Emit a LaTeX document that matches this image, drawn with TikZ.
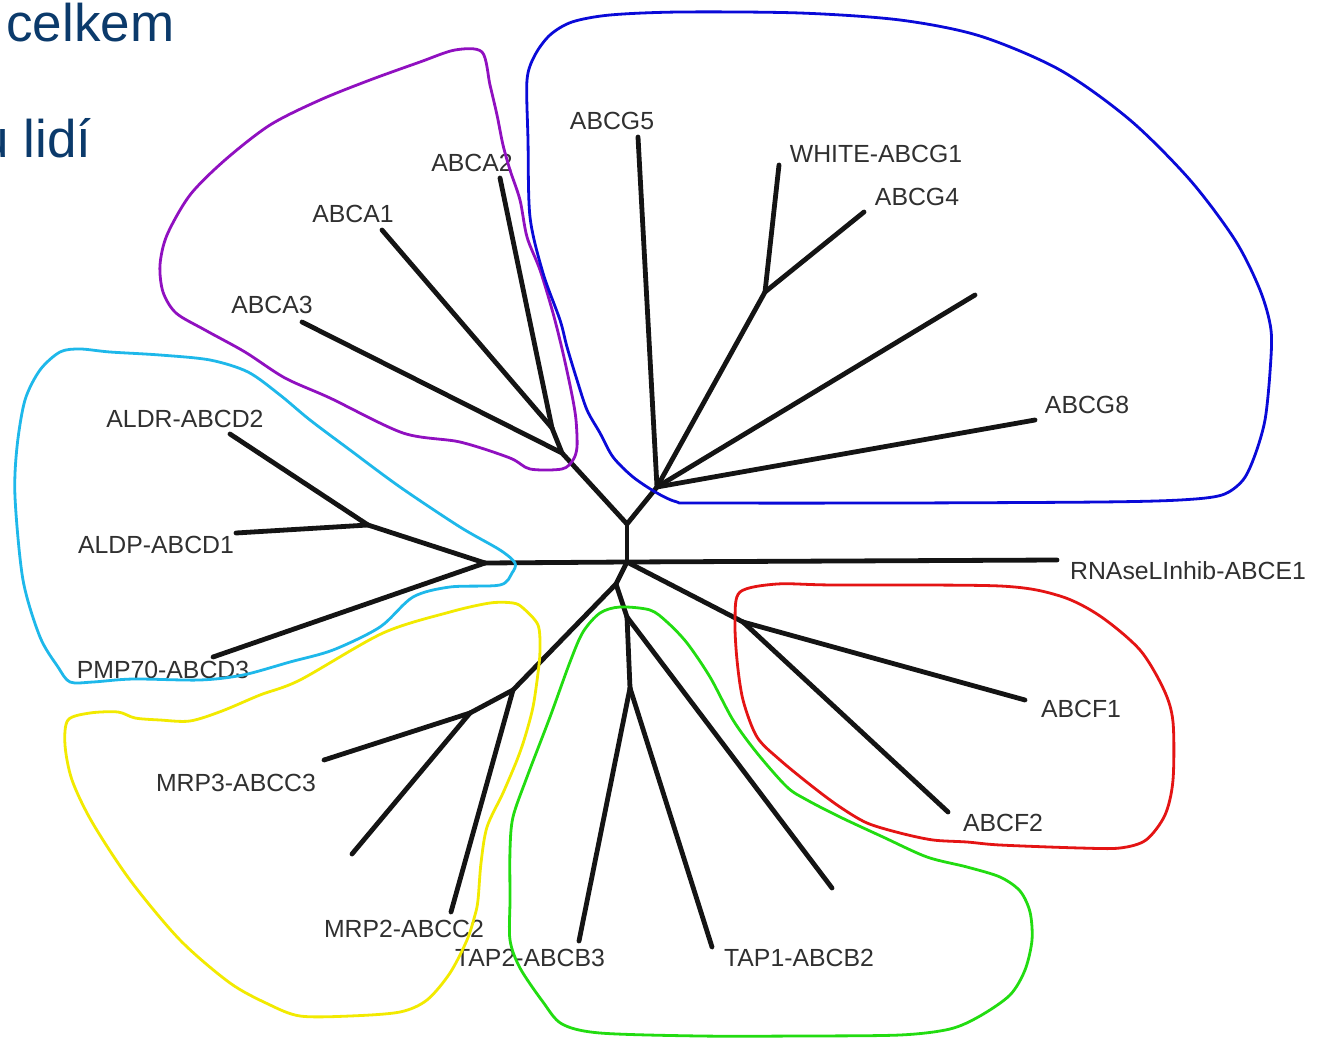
\documentclass[tikz,border=0pt]{standalone}
\usepackage{fontspec}
\setmainfont{Liberation Sans}
\definecolor{titleblue}{HTML}{0B3A6B}
\definecolor{lblgray}{HTML}{303030}
\definecolor{cpurple}{HTML}{9010C0}
\definecolor{cblue}{HTML}{0A0AD8}
\definecolor{ccyan}{HTML}{1EB8EA}
\definecolor{cyellow}{HTML}{F2EA00}
\definecolor{cgreen}{HTML}{22DC11}
\definecolor{cred}{HTML}{E41414}
\begin{document}
\begin{tikzpicture}[x=0.5pt,y=-0.5pt,
  branch/.style={line width=2.4pt, line cap=round, line join=round, black!92},
  hloop/.style={line width=1.4pt, line join=round},
  lbl/.style={font=\fontsize{12.4}{14}\selectfont, text=lblgray, inner sep=0pt},
  ttl/.style={font=\fontsize{26.5}{30}\selectfont, text=titleblue, inner sep=0pt, anchor=base west}]
\useasboundingbox (0,0) rectangle (1317,1038);
\fill[white] (0,0) rectangle (1317,1038);

% title fragments
\node[ttl] (t1) at (6,42) {celkem};
\node[ttl] (t2) at (-21,157) {u lidí};

% tree coordinates
\coordinate (A) at (627,524);
\coordinate (B) at (627,562);
\coordinate (C) at (485,563);
\coordinate (Cd) at (368,525);
\coordinate (ALDR) at (230,434);
\coordinate (ALDP) at (236,533);
\coordinate (PMP) at (213,657);
\coordinate (Aa) at (562,453);
\coordinate (Ab) at (552,428);
\coordinate (A3e) at (302,322);
\coordinate (A1e) at (382,230);
\coordinate (A2e) at (500,178);
\coordinate (G) at (657,487);
\coordinate (G5e) at (638,137);
\coordinate (Gw) at (765,292);
\coordinate (G1e) at (779,165);
\coordinate (G4e) at (864,212);
\coordinate (Gxe) at (975,295);
\coordinate (G8e) at (1035,420);
\coordinate (E1e) at (1057,560);
\coordinate (D) at (616,584);
\coordinate (Fj) at (743,622);
\coordinate (F1e) at (1025,700);
\coordinate (F2e) at (948,812);
\coordinate (H) at (513,690);
\coordinate (I) at (470,713);
\coordinate (M3e) at (324,760);
\coordinate (Ixe) at (352,854);
\coordinate (M2e) at (451,912);
\coordinate (T) at (627,617);
\coordinate (Tbe) at (832,888);
\coordinate (Tf) at (630,688);
\coordinate (T2e) at (579,941);
\coordinate (T1e) at (712,947);

% branches
\draw[branch] (A) -- (B);
\draw[branch] (B) -- (E1e);
\draw[branch] (B) -- (C);
\draw[branch] (C) -- (Cd);
\draw[branch] (Cd) -- (ALDR);
\draw[branch] (Cd) -- (ALDP);
\draw[branch] (C) -- (PMP);
\draw[branch] (A) -- (Aa);
\draw[branch] (Aa) -- (A3e);
\draw[branch] (Aa) -- (Ab);
\draw[branch] (Ab) -- (A1e);
\draw[branch] (Ab) -- (A2e);
\draw[branch] (A) -- (G);
\draw[branch] (G) -- (G5e);
\draw[branch] (G) -- (Gw);
\draw[branch] (Gw) -- (G1e);
\draw[branch] (Gw) -- (G4e);
\draw[branch] (G) -- (Gxe);
\draw[branch] (G) -- (G8e);
\draw[branch] (B) -- (Fj);
\draw[branch] (Fj) -- (F1e);
\draw[branch] (Fj) -- (F2e);
\draw[branch] (B) -- (D);
\draw[branch] (D) -- (H);
\draw[branch] (H) -- (I);
\draw[branch] (I) -- (M3e);
\draw[branch] (I) -- (Ixe);
\draw[branch] (H) -- (M2e);
\draw[branch] (D) -- (T);
\draw[branch] (T) -- (Tbe);
\draw[branch] (T) -- (Tf);
\draw[branch] (Tf) -- (T2e);
\draw[branch] (Tf) -- (T1e);

% labels
\node[lbl] (lG5) at (612,121) {ABCG5};
\node[lbl] (lG1) at (876,154) {WHITE-ABCG1};
\node[lbl] (lG4) at (917,197) {ABCG4};
\node[lbl] (lA2) at (472,163) {ABCA2};
\node[lbl] (lA1) at (353,214) {ABCA1};
\node[lbl] (lA3) at (272,305) {ABCA3};
\node[lbl] (lG8) at (1087,405) {ABCG8};
\node[lbl] (lD2) at (185,419) {ALDR-ABCD2};
\node[lbl] (lD1) at (156,545) {ALDP-ABCD1};
\node[lbl] (lD3) at (163,670) {PMP70-ABCD3};
\node[lbl] (lE1) at (1188,571) {RNAseLInhib-ABCE1};
\node[lbl] (lF1) at (1081,709) {ABCF1};
\node[lbl] (lF2) at (1003,823) {ABCF2};
\node[lbl] (lC3) at (236,783) {MRP3-ABCC3};
\node[lbl] (lC2) at (404,929) {MRP2-ABCC2};
\node[lbl] (lB3) at (530,958) {TAP2-ABCB3};
\node[lbl] (lB2) at (799,958) {TAP1-ABCB2};

% hand-drawn group outlines
\draw[hloop, cpurple] plot[smooth cycle, tension=0.5] coordinates {
 (482,52) (455,50) (420,62) (370,80) (320,100) (270,125) (225,160) (190,195)
 (167,235) (160,265) (163,292) (176,313) (205,330) (245,352) (285,378) (330,398)
 (403,433) (460,442) (510,458) (530,469) (562,469) (573,460) (577,447) (576,420)
 (572,395) (563,353) (553,313) (540,270) (527,237) (520,200) (510,170) (503,145)
 (497,115) (490,85)};
\draw[hloop, cblue] plot[smooth cycle, tension=0.5] coordinates {
 (527,80) (535,55) (550,35) (572,22) (610,15) (680,12) (800,13) (900,20)
 (980,36) (1060,70) (1130,120) (1190,180) (1235,240) (1260,290) (1271,330)
 (1270,372) (1265,420) (1255,455) (1243,480) (1222,495) (1180,500) (1100,502)
 (900,503) (700,503) (677,502) (657,493) (633,477) (613,457) (600,433) (587,410)
 (577,380) (567,347) (560,320) (543,273) (530,217) (528,140)};
\draw[hloop, ccyan] plot[smooth cycle, tension=0.5] coordinates {
 (80,349) (110,352) (160,355) (210,360) (248,372) (280,395) (310,420) (350,450)
 (400,487) (460,527) (500,550) (515,563) (512,573) (500,585) (450,587) (413,597)
 (380,627) (333,650) (290,662) (243,675) (200,680) (133,679) (93,682) (70,682)
 (58,667) (40,637) (23,580) (15,497) (17,447) (25,400) (40,370) (60,352)};
\draw[hloop, cyellow] plot[smooth cycle, tension=0.5] coordinates {
 (300,680) (383,633) (450,612) (490,603) (513,603) (523,608) (538,625) (540,650)
 (538,673) (533,707) (525,737) (517,760) (503,793) (487,827) (481,863) (478,900)
 (475,915) (467,940) (450,973) (427,1000) (400,1012) (350,1016) (300,1016)
 (268,1004) (230,983) (180,940) (130,880) (92,822) (72,780) (65,745) (68,720)
 (90,713) (118,712) (135,718) (160,720) (190,721) (222,711) (260,695)};
\draw[hloop, cgreen] plot[smooth cycle, tension=0.5] coordinates {
 (600,613) (620,607) (650,610) (667,622) (687,643) (710,677) (733,720) (757,753)
 (787,787) (807,800) (840,817) (883,837) (927,857) (967,867) (1000,877)
 (1020,891) (1030,912) (1032,940) (1025,970) (1010,995) (980,1016) (950,1029)
 (900,1035) (800,1036) (700,1036) (600,1033) (562,1024) (543,1002) (520,968)
 (510,940) (510,900) (510,850) (513,817) (527,777) (550,717) (570,662) (583,632)};
\draw[hloop, cred] plot[smooth cycle, tension=0.5] coordinates {
 (777,584) (833,585) (1000,586) (1060,596) (1100,616) (1140,650) (1164,690)
 (1173,722) (1173,780) (1165,815) (1146,840) (1120,848) (1080,848) (1000,845)
 (967,842) (933,840) (900,833) (867,823) (840,807) (813,787) (780,760) (757,737)
 (743,700) (737,660) (735,620) (740,592)};
\end{tikzpicture}
\end{document}
